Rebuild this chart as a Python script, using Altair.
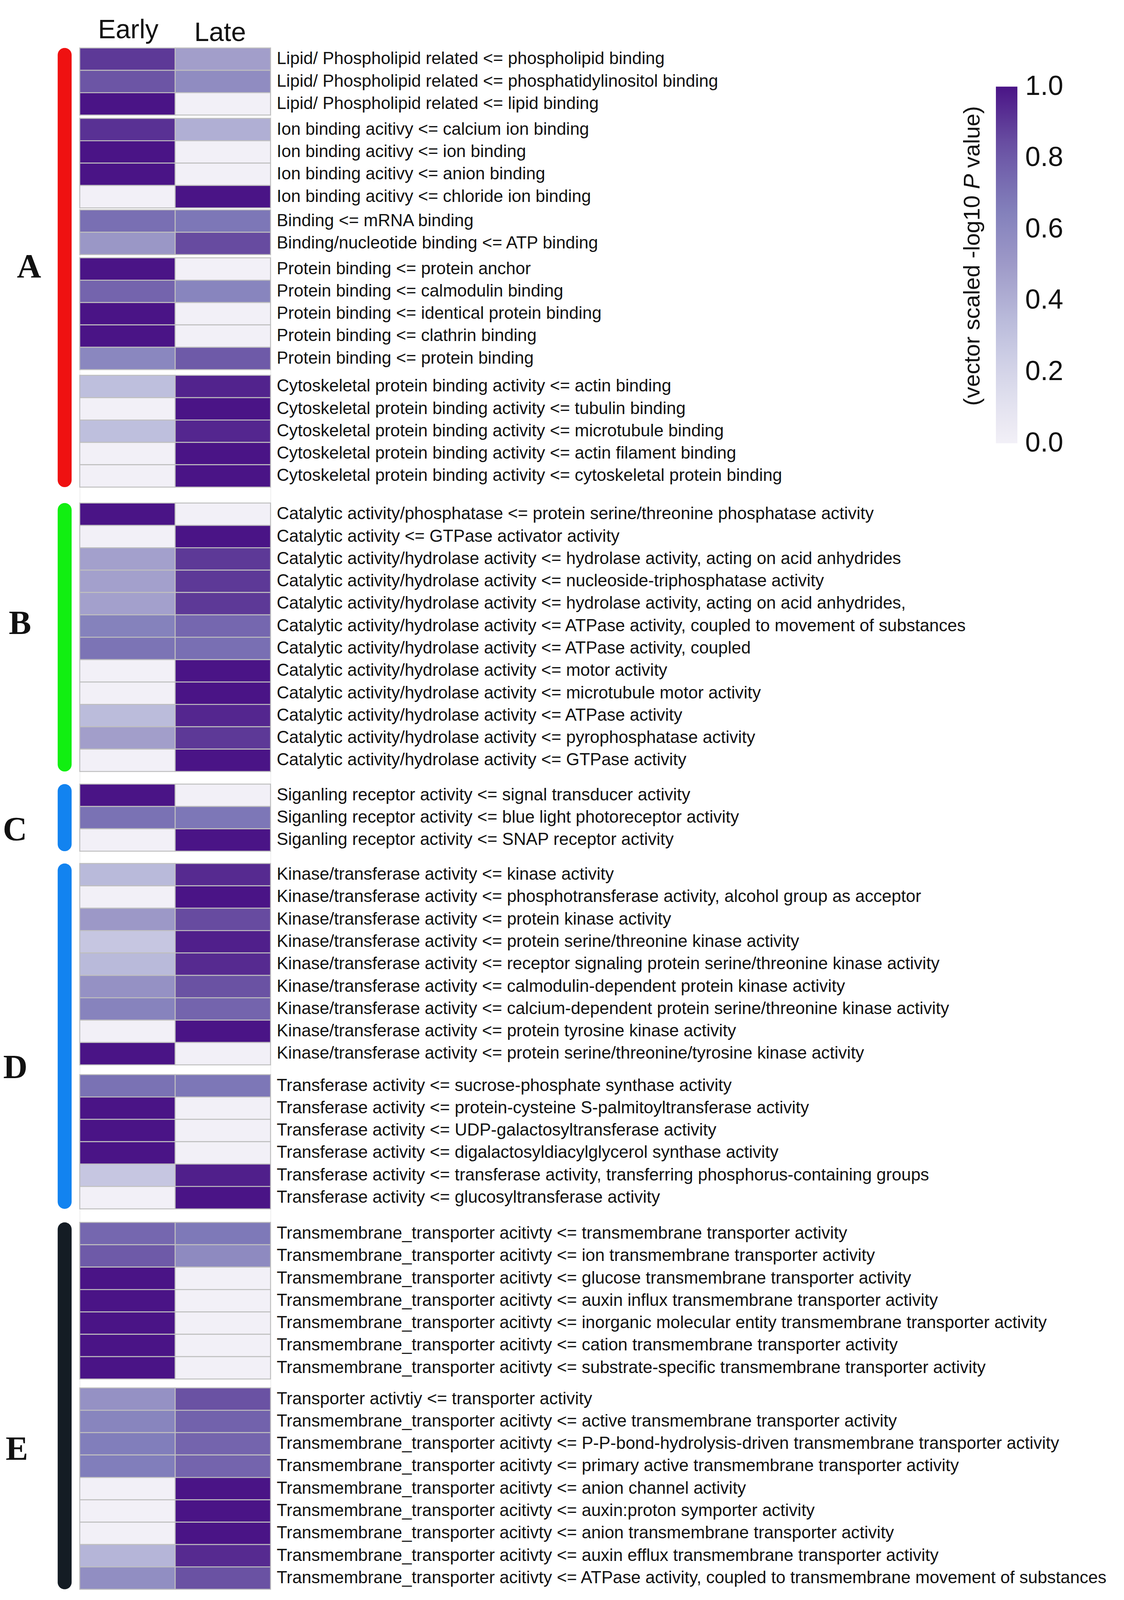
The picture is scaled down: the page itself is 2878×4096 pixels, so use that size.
import altair as alt
import pandas as pd

# ---------------- data ----------------
COLUMNS = ["Early", "Late"]

LABELS = [
    "Lipid/ Phospholipid related <= phospholipid binding",
    "Lipid/ Phospholipid related <= phosphatidylinositol binding",
    "Lipid/ Phospholipid related <= lipid binding",
    "Ion binding acitivy <= calcium ion binding",
    "Ion binding acitivy <= ion binding",
    "Ion binding acitivy <= anion binding",
    "Ion binding acitivy <= chloride ion binding",
    "Binding <= mRNA binding",
    "Binding/nucleotide binding <= ATP binding",
    "Protein binding <= protein anchor",
    "Protein binding <= calmodulin binding",
    "Protein binding <= identical protein binding",
    "Protein binding <= clathrin binding",
    "Protein binding <= protein binding",
    "Cytoskeletal protein binding activity <= actin binding",
    "Cytoskeletal protein binding activity <= tubulin binding",
    "Cytoskeletal protein binding activity <= microtubule binding",
    "Cytoskeletal protein binding activity <= actin filament binding",
    "Cytoskeletal protein binding activity <= cytoskeletal protein binding",
    "Catalytic activity/phosphatase <= protein serine/threonine phosphatase activity",
    "Catalytic activity <= GTPase activator activity",
    "Catalytic activity/hydrolase activity <= hydrolase activity, acting on acid anhydrides",
    "Catalytic activity/hydrolase activity <= nucleoside-triphosphatase activity",
    "Catalytic activity/hydrolase activity <= hydrolase activity, acting on acid anhydrides,",
    "Catalytic activity/hydrolase activity <= ATPase activity, coupled to movement of substances",
    "Catalytic activity/hydrolase activity <= ATPase activity, coupled",
    "Catalytic activity/hydrolase activity <= motor activity",
    "Catalytic activity/hydrolase activity <= microtubule motor activity",
    "Catalytic activity/hydrolase activity <= ATPase activity",
    "Catalytic activity/hydrolase activity <= pyrophosphatase activity",
    "Catalytic activity/hydrolase activity <= GTPase activity",
    "Siganling receptor activity <= signal transducer activity",
    "Siganling receptor activity <= blue light photoreceptor activity",
    "Siganling receptor activity <= SNAP receptor activity",
    "Kinase/transferase activity <= kinase activity",
    "Kinase/transferase activity <= phosphotransferase activity, alcohol group as acceptor",
    "Kinase/transferase activity <= protein kinase activity",
    "Kinase/transferase activity <= protein serine/threonine kinase activity",
    "Kinase/transferase activity <= receptor signaling protein serine/threonine kinase activity",
    "Kinase/transferase activity <= calmodulin-dependent protein kinase activity",
    "Kinase/transferase activity <= calcium-dependent protein serine/threonine kinase activity",
    "Kinase/transferase activity <= protein tyrosine kinase activity",
    "Kinase/transferase activity <= protein serine/threonine/tyrosine kinase activity",
    "Transferase activity <= sucrose-phosphate synthase activity",
    "Transferase activity <= protein-cysteine S-palmitoyltransferase activity",
    "Transferase activity <= UDP-galactosyltransferase activity",
    "Transferase activity <= digalactosyldiacylglycerol synthase activity",
    "Transferase activity <= transferase activity, transferring phosphorus-containing groups",
    "Transferase activity <= glucosyltransferase activity",
    "Transmembrane_transporter acitivty <= transmembrane transporter activity",
    "Transmembrane_transporter acitivty <= ion transmembrane transporter activity",
    "Transmembrane_transporter acitivty <= glucose transmembrane transporter activity",
    "Transmembrane_transporter acitivty <= auxin influx transmembrane transporter activity",
    "Transmembrane_transporter acitivty <= inorganic molecular entity transmembrane transporter activity",
    "Transmembrane_transporter acitivty <= cation transmembrane transporter activity",
    "Transmembrane_transporter acitivty <= substrate-specific transmembrane transporter activity",
    "Transporter activtiy <= transporter activity",
    "Transmembrane_transporter acitivty <= active transmembrane transporter activity",
    "Transmembrane_transporter acitivty <= P-P-bond-hydrolysis-driven transmembrane transporter activity",
    "Transmembrane_transporter acitivty <= primary active transmembrane transporter activity",
    "Transmembrane_transporter acitivty <= anion channel activity",
    "Transmembrane_transporter acitivty <= auxin:proton symporter activity",
    "Transmembrane_transporter acitivty <= anion transmembrane transporter activity",
    "Transmembrane_transporter acitivty <= auxin efflux transmembrane transporter activity",
    "Transmembrane_transporter acitivty <= ATPase activity, coupled to transmembrane movement of substances",
]

EARLY = [
    0.90, 0.82, 1.00,
    0.92, 1.00, 1.00, 0.00,
    0.72, 0.52,
    1.00, 0.76, 1.00, 1.00, 0.61,
    0.32, 0.00, 0.32, 0.00, 0.00,
    1.00, 0.00, 0.47, 0.47, 0.47, 0.64, 0.70, 0.00, 0.00, 0.34, 0.48, 0.00,
    1.00, 0.71, 0.00,
    0.35, 0.00, 0.51, 0.28, 0.35, 0.55, 0.63, 0.00, 1.00,
    0.71, 1.00, 1.00, 1.00, 0.28, 0.00,
    0.75, 0.80, 1.00, 1.00, 1.00, 1.00, 1.00,
    0.55, 0.62, 0.66, 0.66, 0.00, 0.00, 0.00, 0.37, 0.57,
]

LATE = [
    0.48, 0.58, 0.00,
    0.40, 0.00, 0.00, 1.00,
    0.69, 0.85,
    0.00, 0.62, 0.00, 0.00, 0.80,
    0.96, 1.00, 0.95, 1.00, 1.00,
    0.00, 1.00, 0.90, 0.90, 0.90, 0.75, 0.72, 1.00, 1.00, 0.95, 0.90, 1.00,
    0.00, 0.69, 1.00,
    0.94, 1.00, 0.85, 0.97, 0.94, 0.83, 0.76, 1.00, 0.00,
    0.69, 0.00, 0.00, 0.00, 0.97, 1.00,
    0.68, 0.59, 0.00, 0.00, 0.00, 0.00, 0.00,
    0.83, 0.77, 0.76, 0.76, 1.00, 1.00, 1.00, 0.94, 0.83,
]

BLOCK_SIZES = [3, 4, 2, 5, 5, 12, 3, 9, 6, 7, 9]
BLOCK_GROUP = ["A", "A", "A", "A", "A", "B", "C", "D", "D", "E", "E"]
GROUPS = ["A", "B", "C", "D", "E"]
LEGEND_TICKS = [0.0, 0.2, 0.4, 0.6, 0.8, 1.0]
TITLE_PARTS = ["(vector scaled -log10", "P", "value)"]

# ---------------- style / layout ----------------
FONT = "Liberation Sans"
SERIF = "Liberation Serif"
GROUP_COLORS = {"A": "#ef1111", "B": "#11ef11", "C": "#1283f0", "D": "#1283f0", "E": "#141c24"}
PURPLES = ["#f2f0f7", "#dadaeb", "#bcbddc", "#9e9ac8", "#807dba", "#6a51a3", "#4a1486"]
BLOCK_GAPS = [0.148, 0.09, 0.14, 0.25, 0.708, 0.56, 0.549, 0.434, 0.605, 0.396]  # in row units
LETTER_Y = {"A": 9.80, "B": 25.74, "C": 34.95, "D": 45.59, "E": 62.63}           # in row units
LETTER_X = {"A": -130, "B": -153, "C": -166, "D": -165, "E": -161}              # px from heatmap left

PLOT_W, PLOT_H = 488.6, 3945.9
PAD = {"left": 196.2, "top": 114.66, "right": 2862 - 196.2 - 488.6, "bottom": 4080 - 114.66 - 3945.9}
LEG_X, LEG_Y, LEG_LEN, LEG_THICK = 2345.8, 99, 913, 55

# ---------------- build tables ----------------
rows = []
pos = 0.0
i = 0
group_ext = {}
for b, n in enumerate(BLOCK_SIZES):
    if b > 0:
        pos += BLOCK_GAPS[b - 1]
    g = BLOCK_GROUP[b]
    start = pos
    for j in range(n):
        rows.append({"label": LABELS[i], "Early": EARLY[i], "Late": LATE[i],
                     "y0": pos, "y1": pos + 1, "yc": pos + 0.5})
        pos += 1
        i += 1
    lo, hi = group_ext.get(g, (start, pos))
    group_ext[g] = (min(lo, start), max(hi, pos))
TOTAL = pos

rows_df = pd.DataFrame(rows)
cells_df = rows_df.melt(id_vars=["label", "y0", "y1", "yc"], value_vars=COLUMNS,
                        var_name="col", value_name="value")

yscale = alt.Scale(domain=[0, TOTAL], reverse=True, nice=False, zero=False)
cscale = alt.Scale(domain=[k / 6 for k in range(7)], range=PURPLES, interpolate="rgb")

cells = alt.Chart(cells_df).mark_rect(stroke="#bfbfbf", strokeWidth=2.5).encode(
    x=alt.X("col:N", sort=COLUMNS,
            scale=alt.Scale(domain=COLUMNS, paddingInner=0, paddingOuter=0),
            axis=alt.Axis(orient="top", title=None, ticks=False, tickSize=0, domain=False,
                          grid=False, labelAngle=0, labelFontSize=68, labelFont=FONT,
                          labelColor="#111111", labelBaseline="alphabetic",
                          labelPadding={"condition": {"test": "datum.value === 'Late'", "value": 18},
                                        "value": 25.5},
                          labelOffset={"condition": {"test": "datum.value === 'Late'", "value": -7},
                                       "value": 2})),
    y=alt.Y("y0:Q", scale=yscale, axis=None),
    y2="y1:Q",
    color=alt.Color("value:Q", scale=cscale,
                    legend=alt.Legend(orient="none", legendX=LEG_X, legendY=LEG_Y,
                                      direction="vertical", gradientLength=LEG_LEN,
                                      gradientThickness=LEG_THICK, title=None,
                                      values=LEGEND_TICKS, labelOpacity=0,
                                      labelFontSize=10, gradientStrokeWidth=0, padding=0)),
)

labels = alt.Chart(rows_df).mark_text(align="left", baseline="middle", fontSize=44,
                                       font=FONT, color="#111111").encode(
    x=alt.value(504.3),
    y=alt.Y("yc:Q", scale=yscale, axis=None),
    text="label:N",
)

layers = [cells, labels]

for g in GROUPS:
    lo, hi = group_ext[g]
    gdf = pd.DataFrame({"group": [g], "g0": [lo], "g1": [hi], "ly": [LETTER_Y[g]]})
    bar = alt.Chart(gdf).mark_rect(color=GROUP_COLORS[g], cornerRadius=17.8).encode(
        x=alt.value(-56.5), x2=alt.value(-20.8),
        y=alt.Y("g0:Q", scale=yscale, axis=None), y2="g1:Q")
    letter = alt.Chart(gdf).mark_text(font=SERIF, fontWeight="bold", fontSize=86,
                                      align="center", baseline="middle",
                                      color="#111111").encode(
        x=alt.value(LETTER_X[g]),
        y=alt.Y("ly:Q", scale=yscale, axis=None),
        text="group:N")
    layers += [bar, letter]

# colour-bar tick labels, centred on their tick values
tick_df = pd.DataFrame({"tick": LEGEND_TICKS})
tick_labels = alt.Chart(tick_df).mark_text(align="left", baseline="middle", fontSize=70,
                                           font=FONT, color="#111111").encode(
    x=alt.value(LEG_X + LEG_THICK + 20),
    y=alt.Y("tick:Q", scale=alt.Scale(domain=[0, 1], range=[LEG_Y + LEG_LEN, LEG_Y],
                                      nice=False, zero=False), axis=None),
    text=alt.Text("tick:Q", format=".1f"),
)
layers.append(tick_labels)

# legend title, rotated, with italic P
t_df = pd.DataFrame({"t1": [TITLE_PARTS[0]], "t2": [TITLE_PARTS[1]], "t3": [TITLE_PARTS[2]]})
title1 = alt.Chart(t_df).mark_text(angle=270, align="left", baseline="middle", fontSize=58,
                                   font=FONT, color="#111111").encode(
    x=alt.value(2286.8), y=alt.value(916), text="t1:N")
title2 = alt.Chart(t_df).mark_text(angle=270, align="center", baseline="middle", fontSize=58,
                                   font=FONT, fontStyle="italic", color="#111111").encode(
    x=alt.value(2286.8), y=alt.value(342), text="t2:N")
title3 = alt.Chart(t_df).mark_text(angle=270, align="left", baseline="middle", fontSize=58,
                                   font=FONT, color="#111111").encode(
    x=alt.value(2286.8), y=alt.value(307), text="t3:N")
layers += [title1, title2, title3]

chart = alt.layer(*layers).resolve_scale(y="independent").properties(
    width=PLOT_W, height=PLOT_H,
    autosize=alt.AutoSizeParams(type="none"),
    padding=PAD,
).configure_view(strokeWidth=0).configure(background="white")

chart.save("out.html", embed_options={"renderer": "svg", "actions": False})
